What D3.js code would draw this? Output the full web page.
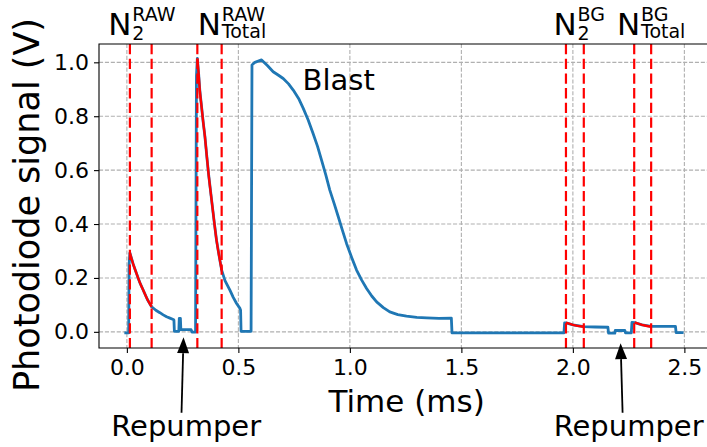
<!DOCTYPE html>
<html><head><meta charset="utf-8">
<script src="https://cdn.jsdelivr.net/npm/d3@7/dist/d3.min.js"></script>
<style>
body{margin:0;background:#fff}
svg{display:block;font-family:"DejaVu Sans",sans-serif}
</style>
</head><body>
<svg id="chart" width="707" height="447"></svg>
<script>
// ---------- data ----------
const traceTime = [-0.005,0.008,0.010,0.0135,0.028,0.043,0.058,0.073,0.092,0.111,0.130,0.148,0.163,0.178,0.193,0.208,0.211,0.213,0.233,0.235,0.240,0.242,0.288,0.292,0.308,0.312,0.316,0.322,0.327,0.335,0.342,0.350,0.358,0.366,0.380,0.392,0.402,0.414,0.425,0.440,0.462,0.477,0.492,0.507,0.510,0.512,0.557,0.561,0.574,0.604,0.630,0.656,0.680,0.701,0.725,0.746,0.770,0.791,0.813,0.835,0.855,0.873,0.892,0.910,0.930,0.948,0.966,0.985,1.008,1.030,1.053,1.075,1.098,1.120,1.150,1.179,1.215,1.254,1.300,1.344,1.400,1.455,1.458,1.700,1.960,1.963,1.969,2.000,2.049,2.100,2.157,2.160,2.188,2.190,2.233,2.236,2.262,2.265,2.277,2.310,2.351,2.400,2.460,2.463,2.490];
const traceSignal = [-0.004,-0.004,0.250,0.293,0.252,0.217,0.183,0.155,0.120,0.093,0.080,0.071,0.063,0.056,0.051,0.046,0.044,0.002,0.002,0.050,0.050,0.008,0.008,-0.001,-0.001,0.950,1.015,0.955,0.897,0.835,0.780,0.724,0.655,0.588,0.489,0.405,0.340,0.280,0.229,0.190,0.155,0.128,0.105,0.087,0.080,0.002,0.002,0.990,1.000,1.009,0.988,0.965,0.952,0.940,0.920,0.897,0.866,0.829,0.786,0.736,0.688,0.637,0.582,0.526,0.475,0.427,0.378,0.328,0.276,0.229,0.192,0.161,0.133,0.111,0.090,0.074,0.064,0.058,0.054,0.052,0.050,0.051,-0.004,-0.004,-0.004,0.033,0.033,0.026,0.019,0.018,0.017,-0.005,-0.005,0.005,0.005,-0.004,-0.004,0.035,0.034,0.026,0.020,0.020,0.020,-0.003,-0.003];

const fitN2RawTime   = [0.0135,0.028,0.043,0.058,0.073,0.092,0.111];
const fitN2RawValue  = [0.293,0.252,0.217,0.183,0.155,0.120,0.093];
const fitTotRawTime  = [0.316,0.322,0.327,0.335,0.342,0.350,0.358,0.366,0.380,0.392,0.402,0.414,0.425];
const fitTotRawValue = [1.015,0.955,0.897,0.835,0.780,0.724,0.655,0.588,0.489,0.405,0.340,0.280,0.229];
const fitN2BgTime    = [1.969,2.000,2.049];
const fitN2BgValue   = [0.034,0.026,0.019];
const fitTotBgTime   = [2.277,2.310,2.351];
const fitTotBgValue  = [0.035,0.026,0.019];

const windowTimes = [0.0135,0.111,0.316,0.425,1.969,2.049,2.275,2.351];

const xTicks = [0.0,0.5,1.0,1.5,2.0,2.5];
const yTicks = [0.0,0.2,0.4,0.6,0.8,1.0];

const windowLabelBase = ["N","N","N","N"];
const windowLabelSub  = ["2","Total","2","Total"];
const windowLabelSup  = ["RAW","RAW","BG","BG"];
const windowLabelTime = [-0.083,0.318,1.913,2.198];

const repumperTipTime   = [0.254,2.214];
const repumperTipValue  = [-0.02,-0.042];
const repumperTextTime  = [0.266,2.250];
const repumperTailValue = [-0.30,-0.30];
const repumperTextValue = [-0.388,-0.388];

// ---------- layout ----------
const svg = d3.select("#chart");
const L = 99, R = 712.25, T = 44, B = 348;
const x = d3.scaleLinear().domain([-0.125, 2.625]).range([L, R]);
const y = d3.scaleLinear().domain([-0.06, 1.068]).range([B, T]);

const clipId = "plotclip";
svg.append("defs").append("clipPath").attr("id", clipId)
  .append("rect").attr("x", L).attr("y", T).attr("width", R - L).attr("height", B - T);

// grid
const grid = svg.append("g");
grid.selectAll(".gx").data(xTicks).join("line")
  .attr("x1", d => x(d)).attr("x2", d => x(d)).attr("y1", T).attr("y2", B)
  .attr("stroke", "#b0b0b0").attr("stroke-width", 1.1).attr("stroke-dasharray", "4.1,1.8");
grid.selectAll(".gy").data(yTicks).join("line")
  .attr("x1", L).attr("x2", R).attr("y1", d => y(d)).attr("y2", d => y(d))
  .attr("stroke", "#b0b0b0").attr("stroke-width", 1.1).attr("stroke-dasharray", "4.1,1.8");

const plot = svg.append("g").attr("clip-path", `url(#${clipId})`);
const line = d3.line().x(d => x(d[0])).y(d => y(d[1]));

// trace
plot.append("path").datum(d3.zip(traceTime, traceSignal))
  .attr("d", line).attr("fill", "none").attr("stroke", "#1f77b4")
  .attr("stroke-width", 2.8).attr("stroke-linejoin", "round").attr("stroke-linecap", "square");

// fits
[[fitN2RawTime, fitN2RawValue],[fitTotRawTime, fitTotRawValue],[fitN2BgTime, fitN2BgValue],[fitTotBgTime, fitTotBgValue]]
  .forEach(([t, v]) => {
    plot.append("path").datum(d3.zip(t, v)).attr("d", d3.line().curve(d3.curveMonotoneX).x(d => x(d[0])).y(d => y(d[1])))
      .attr("fill", "none").attr("stroke", "#ff0000").attr("stroke-width", 2.4);
  });

// window lines
plot.selectAll(".win").data(windowTimes).join("line")
  .attr("x1", d => x(d)).attr("x2", d => x(d)).attr("y1", T).attr("y2", B)
  .attr("stroke", "#ff0000").attr("stroke-width", 2.2).attr("stroke-dasharray", "10.3,4.4");

// spines
svg.append("path").attr("d", `M${R},${T}H${L}V${B}H${R}`)
  .attr("fill", "none").attr("stroke", "#000").attr("stroke-width", 1.1);

// axes
const xAxis = svg.append("g").attr("transform", `translate(0,${B})`)
  .call(d3.axisBottom(x).tickValues(xTicks).tickFormat(d3.format(".1f")).tickSize(5).tickPadding(6).tickSizeOuter(0));
const yAxis = svg.append("g").attr("transform", `translate(${L},0)`)
  .call(d3.axisLeft(y).tickValues(yTicks).tickFormat(d3.format(".1f")).tickSize(5).tickPadding(5).tickSizeOuter(0));
[xAxis, yAxis].forEach(a => {
  a.select(".domain").remove();
  a.selectAll(".tick line").attr("stroke", "#000").attr("stroke-width", 1.1);
  a.selectAll(".tick text").attr("font-size", 22).attr("fill", "#000").attr("font-family", "DejaVu Sans");
});

// axis labels
svg.append("text").attr("x", (L + R) / 2 + 1).attr("y", 412).attr("text-anchor", "middle")
  .attr("font-size", 31).text("Time (ms)");
svg.append("text").attr("transform", `translate(39,${(T + B) / 2 + 9}) rotate(-90)`).attr("text-anchor", "middle")
  .attr("font-size", 35).text("Photodiode signal (V)");

// Blast label
svg.append("text").attr("x", x(0.788)).attr("y", 90).attr("font-size", 29).text("Blast");

// window labels
windowLabelBase.forEach((b, i) => {
  const x0 = x(windowLabelTime[i]);
  const g = svg.append("g");
  g.append("text").attr("x", x0).attr("y", 35).attr("font-size", 31).text(b);
  const subY = windowLabelSub[i] === "2" ? 40 : 37.5;
  g.append("text").attr("x", x0 + 24).attr("y", 21).attr("font-size", 19).text(windowLabelSup[i]);
  g.append("text").attr("x", x0 + 24).attr("y", subY).attr("font-size", 19).text(windowLabelSub[i]);
});

// repumper annotations
repumperTipTime.forEach((tt, i) => {
  const tx = x(tt), ty = y(repumperTipValue[i]);
  const by = y(repumperTailValue[i]);
  const sx = i === 0 ? tx - 2 : tx + 2;
  const ang = Math.atan2(ty - by, tx - sx);
  const hl = 16, hw = 6;
  const baseX = tx - hl * Math.cos(ang), baseY = ty - hl * Math.sin(ang);
  svg.append("line").attr("x1", sx).attr("y1", by).attr("x2", baseX).attr("y2", baseY)
    .attr("stroke", "#000").attr("stroke-width", 1.8);
  const px = -Math.sin(ang), py = Math.cos(ang);
  svg.append("path").attr("d", `M${tx},${ty}L${baseX + hw * px},${baseY + hw * py}L${baseX - hw * px},${baseY - hw * py}Z`)
    .attr("fill", "#000");
  svg.append("text").attr("x", x(repumperTextTime[i])).attr("y", y(repumperTextValue[i])).attr("text-anchor", "middle")
    .attr("font-size", 29).text("Repumper");
});
</script>
</body></html>
